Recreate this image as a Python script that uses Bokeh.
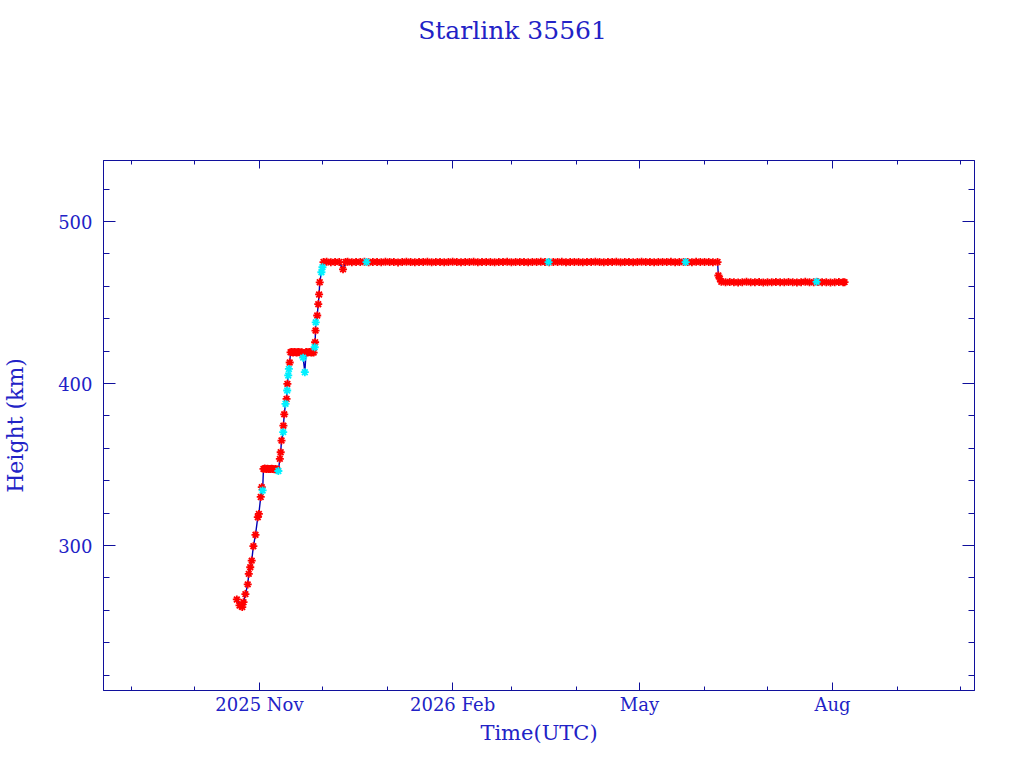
import pandas as pd
from bokeh.plotting import figure
from bokeh.models import Range1d, FixedTicker, DatetimeAxis, LinearAxis, Label
from bokeh.embed import file_html
from bokeh.resources import INLINE

# ---------------- data (days relative to 2025-11-01 UTC, height in km) -------------
BASE_DATE = "2025-11-01"
TITLE = "Starlink 35561"

red_days = [
    -10.8, -9.5, -8.2, -7.6, -6.7, -5.6, -5.1, -4.4, -3.7, -2.9,
    -1.9, -0.8, -0.3, 0.6, 1.1, 1.9, 2.5, 3.2, 3.8, 4.5,
    5.1, 5.8, 6.4, 7.1, 7.7, 8.4, 9.7, 10.1, 10.5, 11.4,
    11.8, 12.9, 13.3, 14.4, 14.8, 15.4, 16.0, 16.6, 17.2, 17.8,
    18.4, 19.0, 19.6, 20.2, 22.2, 22.8, 23.4, 24.0, 24.6, 25.2,
    25.8, 26.5, 26.7, 27.5, 28.0, 28.4, 28.7, 30.5, 32, 34,
    36, 38, 39.8, 41, 42, 44, 46, 48, 50, 52,
    54, 56, 58, 60, 62, 64, 66, 68, 70, 72,
    74, 76, 78, 80, 82, 84, 86, 88, 90, 92,
    94, 96, 98, 100, 102, 104, 106, 108, 110, 112,
    114, 116, 118, 120, 122, 124, 126, 128, 130, 132,
    134, 136, 138, 140, 142, 144, 146, 148, 150, 152,
    154, 156, 158, 160, 162, 164, 166, 168, 170, 172,
    174, 176, 178, 180, 182, 184, 186, 188, 190, 192,
    194, 196, 198, 200, 202, 204, 206, 208, 210, 212,
    214, 216, 218.2, 218.6, 219.3, 220, 222, 224, 226, 228,
    230, 232, 234, 236, 238, 240, 242, 244, 246, 248,
    250, 252, 254, 256, 258, 260, 262, 264, 266, 268,
    270, 272, 274, 276, 278, 278.7,
]
red_heights = [
    266.7, 263.0, 262.0, 265.0, 270.0, 276.0, 282.5, 286.6, 290.7, 299.6,
    306.6, 317.5, 319.5, 330.0, 336.0, 347.3, 347.5, 347.2, 347.4, 347.3,
    347.2, 347.4, 347.3, 347.1, 347.3, 347.0, 353.5, 357.6, 364.8, 374.0,
    381.0, 390.5, 399.8, 413.0, 419.3, 419.5, 419.2, 419.4, 419.3, 419.1,
    419.4, 419.3, 419.2, 419.3, 419.4, 419.2, 419.3, 419.5, 419.2, 419.3,
    419.1, 425.5, 432.7, 442.0, 449.0, 455.0, 462.5, 475.0, 475.2, 474.9,
    475.1, 475.0, 470.5, 475.0, 475.2, 474.9, 475.1, 475.0, 475.2, 474.9,
    475.0, 475.1, 474.9, 475.2, 475.0, 475.1, 474.8, 475.0, 475.2, 475.0,
    474.9, 475.1, 475.0, 475.2, 474.9, 475.0, 475.1, 474.9, 475.0, 475.2,
    475.0, 474.9, 475.1, 475.0, 475.2, 474.9, 475.0, 475.1, 475.0, 474.9,
    475.1, 475.0, 475.2, 474.9, 475.0, 475.1, 475.0, 474.9, 475.1, 475.0,
    475.2, 475.0, 474.9, 475.1, 475.0, 475.2, 474.9, 475.0, 475.1, 475.0,
    474.9, 475.1, 475.0, 475.2, 475.0, 474.9, 475.1, 475.0, 475.2, 474.9,
    475.0, 475.1, 474.9, 475.0, 475.2, 475.0, 475.1, 474.9, 475.0, 475.1,
    475.0, 475.2, 474.9, 475.0, 475.1, 475.0, 474.9, 475.2, 475.0, 475.1,
    475.0, 474.9, 475.0, 466.7, 464.6, 462.8, 462.5, 462.7, 462.6, 462.4,
    462.6, 462.8, 462.5, 462.6, 462.7, 462.4, 462.6, 462.5, 462.7, 462.6,
    462.5, 462.7, 462.6, 462.4, 462.6, 462.8, 462.5, 462.6, 462.7, 462.5,
    462.6, 462.4, 462.6, 462.7, 462.5, 462.6,
]

cyan_days = [1.5, 9.0, 11.3, 12.4, 13.2, 13.7, 14.0, 20.8, 21.6,
             26.3, 26.8, 29.5, 30.0, 51.0, 137.7, 203.0, 265.4]
cyan_heights = [334.0, 346.0, 370.0, 387.5, 395.7, 405.0, 409.0, 416.0, 407.0,
                422.4, 437.8, 468.7, 471.8, 475.0, 475.0, 475.0, 462.8]

xtick_dates = ["2025-11-01", "2026-02-01", "2026-05-01", "2026-08-01"]
xtick_labels = ["2025 Nov", "2026 Feb", "May", "Aug"]
xminor_dates = ["2025-09-01", "2025-10-01", "2025-11-01", "2025-12-01",
                "2026-01-01", "2026-02-01", "2026-03-01", "2026-04-01",
                "2026-05-01", "2026-06-01", "2026-07-01", "2026-08-01",
                "2026-09-01", "2026-10-01"]
ytick_values = [300, 400, 500]
yminor_values = [220, 240, 260, 280, 300, 320, 340, 360, 380, 400,
                 420, 440, 460, 480, 500, 520]

# ---------------- helpers -------------
DAY_MS = 86400000.0


def date_ms(s):
    return pd.Timestamp(s).value / 1e6


base_ms = date_ms(BASE_DATE)


def days_ms(days):
    return [base_ms + d * DAY_MS for d in days]


red_x = days_ms(red_days)
cyan_x = days_ms(cyan_days)
merged = sorted(zip(red_days + cyan_days, red_heights + cyan_heights))
line_x = days_ms([m[0] for m in merged])
line_y = [m[1] for m in merged]

X_START = base_ms - 74.3 * DAY_MS
X_END = base_ms + 340.6 * DAY_MS

TEXT = "#2222c6"
LINE = "#10109c"
FONT = "DejaVu Serif"

p = figure(frame_width=871, frame_height=530,
           min_border_left=102, min_border_right=43,
           min_border_top=160, min_border_bottom=70,
           x_axis_type="datetime",
           x_range=Range1d(X_START, X_END),
           y_range=Range1d(210.5, 537.7),
           output_backend="svg", toolbar_location=None)

p.background_fill_color = "white"
p.border_fill_color = "white"
p.outline_line_color = LINE
p.outline_line_width = 1
p.xgrid.visible = False
p.ygrid.visible = False

xt = FixedTicker(ticks=[date_ms(d) for d in xtick_dates],
                 minor_ticks=[date_ms(d) for d in xminor_dates])
yt = FixedTicker(ticks=ytick_values, minor_ticks=yminor_values)

xa = p.xaxis[0]
xa.ticker = xt
xa.major_label_overrides = {date_ms(d): lab for d, lab in zip(xtick_dates, xtick_labels)}
xa.axis_label = "Time(UTC)"
xa.axis_label_text_font = FONT
xa.axis_label_text_font_size = "21px"
xa.axis_label_text_font_style = "normal"
xa.axis_label_text_color = TEXT
xa.axis_label_standoff = 3
xa.major_label_standoff = 3

ya = p.yaxis[0]
ya.ticker = yt
ya.major_label_standoff = 11
ya.axis_label = "Height (km)"
ya.axis_label_text_font = FONT
ya.axis_label_text_font_size = "22px"
ya.axis_label_text_font_style = "normal"
ya.axis_label_text_color = TEXT
ya.axis_label_standoff = 27

top = DatetimeAxis(ticker=xt)
top.major_label_overrides = {date_ms(d): "" for d in xtick_dates}
right = LinearAxis(ticker=yt)
right.major_label_overrides = {v: "" for v in ytick_values}
for ax in (top, right):
    ax.major_label_standoff = 0
p.add_layout(top, "above")
p.add_layout(right, "right")

for ax in (xa, top):
    ax.major_tick_in = 8
    ax.major_tick_out = 0
    ax.minor_tick_in = 4
    ax.minor_tick_out = 0
for ax in (ya, right):
    ax.major_tick_in = 12
    ax.major_tick_out = 0
    ax.minor_tick_in = 6
    ax.minor_tick_out = 0
for ax in (xa, ya, top, right):
    ax.axis_line_color = LINE
    ax.major_tick_line_color = LINE
    ax.minor_tick_line_color = LINE
    ax.axis_line_width = 1
    ax.major_tick_line_width = 1
    ax.minor_tick_line_width = 1
for ax in (xa, ya):
    ax.major_label_text_font = FONT
    ax.major_label_text_font_size = "18px"
    ax.major_label_text_color = TEXT

p.line(x=line_x, y=line_y, line_color="#0000b4", line_width=1.4)
p.scatter(x=red_x, y=red_heights, marker="asterisk", size=8,
          line_color="#ff0000", line_width=1.8)
p.scatter(x=cyan_x, y=cyan_heights, marker="asterisk", size=8,
          line_color="#00f0ff", line_width=1.8)

# title: a label in the panel above the plot, centred on the page
p.add_layout(Label(x=409, y=130, x_units="screen", y_units="screen",
                   text=TITLE, text_font=FONT, text_font_size="25px",
                   text_color=TEXT, text_align="center", text_baseline="middle"),
             "above")

open("out.html", "w").write(file_html(p, INLINE))
